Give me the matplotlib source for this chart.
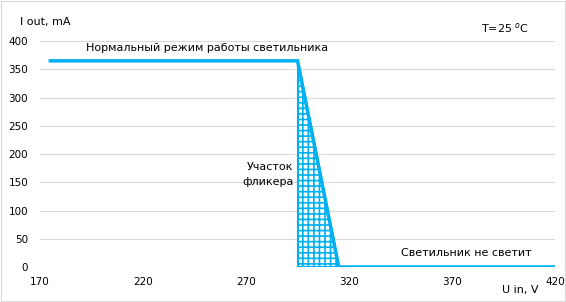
import matplotlib
matplotlib.use("Agg")
import matplotlib.pyplot as plt
from matplotlib.patches import Rectangle

# данные кривой I out (mA) от U in (V)
u_in = [175, 295, 315, 420]
i_out = [365, 365, 0, 0]

# участок фликера
flicker_u = [295, 295, 315]
flicker_i = [365, 0, 0]

x_ticks = [170, 220, 270, 320, 370, 420]
y_ticks = [0, 50, 100, 150, 200, 250, 300, 350, 400]

blue = "#00B0F0"
plt.rcParams['font.family'] = ['DejaVu Sans']
plt.rcParams['font.size'] = 8
plt.rcParams['hatch.linewidth'] = 1.2
plt.rcParams['hatch.color'] = blue

fig = plt.figure(figsize=(5.66, 3.02), dpi=100)
ax = fig.add_axes([0.0707, 0.1159, 0.9099, 0.7481])

ax.fill(flicker_u, flicker_i, facecolor="white", edgecolor=blue,
        hatch="+++", linewidth=1.5, zorder=2)
ax.plot(u_in, i_out, color=blue, linewidth=2.5, zorder=3,
        solid_joinstyle="miter")

ax.set_xlim(170, 420)
ax.set_ylim(0, 400)
ax.set_xticks(x_ticks)
ax.set_yticks(y_ticks)
ax.grid(axis="y", color="#D9D9D9", linewidth=0.8)
ax.set_axisbelow(True)
for s in ax.spines.values():
    s.set_visible(False)
ax.tick_params(length=0, colors="black", labelsize=7.5)
ax.tick_params(axis="y", pad=8.5)
ax.tick_params(axis="x", pad=7)

fig.text(0.035, 0.927, "I out, mA", va="center")
fig.text(0.92, 0.04, "U in, V", ha="center", va="center")
fig.text(0.892, 0.907, "T=25 $^{o}$C", ha="center", va="center")

ax.text(251, 378, "Нормальный режим работы светильника", ha="center",
        va="bottom")
ax.text(293, 164, "Участок\nфликера", ha="right", va="center",
        linespacing=1.55)
ax.text(377, 25, "Светильник не светит", ha="center", va="center")

fig.patches.append(Rectangle((0.002, 0.003), 0.996, 0.994,
                             transform=fig.transFigure, fill=False,
                             edgecolor="#D9D9D9", linewidth=0.8))

fig.savefig("out.png", dpi=100)
